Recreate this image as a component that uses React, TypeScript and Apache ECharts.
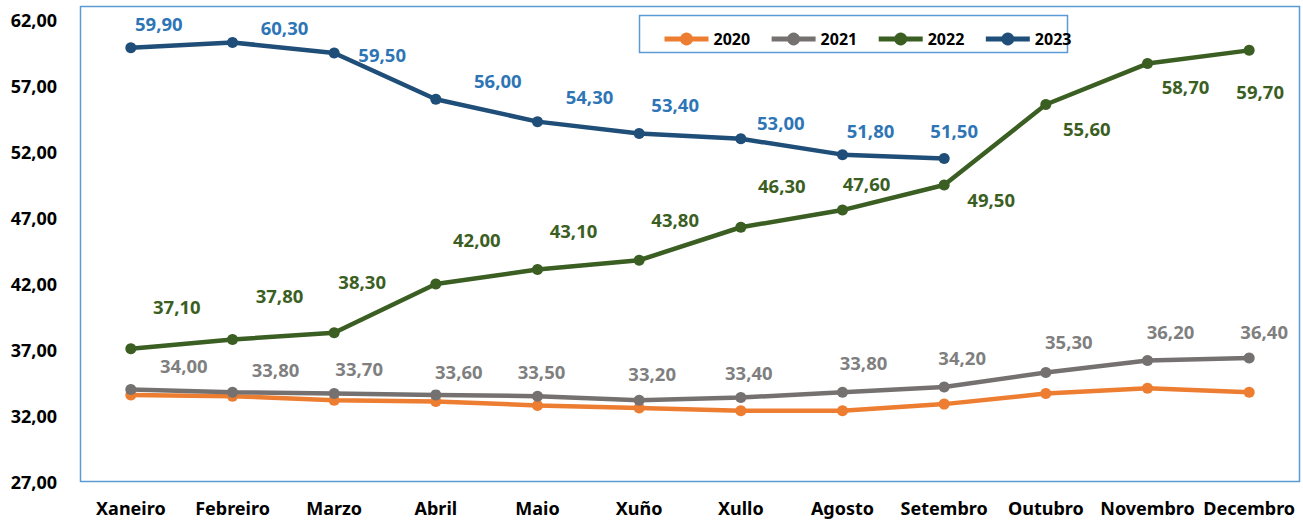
import React, { useEffect, useRef } from "react";
import * as echarts from "echarts";

const categories = ["Xaneiro", "Febreiro", "Marzo", "Abril", "Maio", "Xuño", "Xullo", "Agosto", "Setembro", "Outubro", "Novembro", "Decembro"];
const v2020 = [33.6, 33.5, 33.2, 33.1, 32.8, 32.6, 32.4, 32.4, 32.9, 33.7, 34.1, 33.8];
const v2021 = [34.0, 33.8, 33.7, 33.6, 33.5, 33.2, 33.4, 33.8, 34.2, 35.3, 36.2, 36.4];
const v2022 = [37.1, 37.8, 38.3, 42.0, 43.1, 43.8, 46.3, 47.6, 49.5, 55.6, 58.7, 59.7];
const v2023 = [59.9, 60.3, 59.5, 56.0, 54.3, 53.4, 53.0, 51.8, 51.5];

const off2021 = [[53, -24], [43, -23], [25, -25], [23, -23], [4, -25], [13, -27], [8, -25], [21, -30], [18, -29], [23, -31], [23, -29], [15, -26]];
const off2022 = [[46, -42], [47, -44], [28, -51], [41, -45], [36, -39], [36, -41], [41, -42], [24, -27], [47, 14], [41, 24], [38, 23], [11, 41]];
const off2023 = [[28, -24], [52, -15], [48, 1], [62, -19], [52, -25], [36, -29], [40, -16], [28, -24], [10, -28]];

const FONT = "Noto Sans";
const fmt = (v: number) => v.toFixed(2).replace(".", ",");

function mkSeries(name: string, values: number[], color: string, labelColor: string | null, offsets: number[][] | null) {
  return {
    name,
    type: "line",
    data: values.map((v, i) =>
      labelColor && offsets
        ? {
            value: v,
            label: {
              show: true,
              position: "inside",
              offset: offsets[i],
              color: labelColor,
              fontFamily: FONT,
              fontWeight: "bold",
              fontSize: 18.5,
              formatter: (p: any) => fmt(p.value),
            },
          }
        : v
    ),
    symbol: "circle",
    symbolSize: 11,
    lineStyle: { color, width: 4.5 },
    itemStyle: { color },
    emphasis: { disabled: true },
  };
}

export default function App() {
  const ref = useRef<HTMLDivElement>(null);
  useEffect(() => {
    if (!ref.current) return;
    const chart = echarts.init(ref.current, null, { renderer: "svg" });
    chart.setOption({
      animation: false,
      backgroundColor: "#ffffff",
      grid: { left: 80, right: 3, top: 20, bottom: 41, containLabel: false },
      legend: {
        left: 657,
        top: 26,
        itemWidth: 44,
        itemHeight: 16,
        itemGap: 19,
        lineStyle: { width: 5 },
        textStyle: { fontFamily: FONT, fontWeight: "bold", fontSize: 16, color: "#000" },
        data: ["2020", "2021", "2022", "2023"],
      },
      xAxis: {
        type: "category",
        data: categories,
        boundaryGap: true,
        axisLine: { show: false },
        axisTick: { show: false },
        axisLabel: { fontFamily: FONT, fontWeight: "bold", fontSize: 18, color: "#000", margin: 17, interval: 0 },
      },
      yAxis: {
        type: "value",
        min: 27,
        max: 62,
        interval: 5,
        axisLine: { show: false },
        axisTick: { show: false },
        splitLine: { show: false },
        axisLabel: { fontFamily: FONT, fontWeight: "bold", fontSize: 18, color: "#000", margin: 23, formatter: (v: number) => fmt(v) },
      },
      graphic: [
        { type: "rect", shape: { x: 80.5, y: 6.5, width: 1219, height: 475 }, style: { fill: "none", stroke: "#5B9BD5", lineWidth: 1.5 }, silent: true },
        { type: "rect", shape: { x: 639.5, y: 15.5, width: 428, height: 37 }, style: { fill: "none", stroke: "#5B9BD5", lineWidth: 1.5 }, silent: true },
      ],
      series: [
        mkSeries("2020", v2020, "#ED7D31", null, null),
        mkSeries("2021", v2021, "#767171", "#7F7F7F", off2021),
        mkSeries("2022", v2022, "#3B5E22", "#3B5E22", off2022),
        mkSeries("2023", v2023, "#1F4E79", "#2E75B6", off2023),
      ],
    });
    return () => chart.dispose();
  }, []);
  return <div ref={ref} style={{ width: 1303, height: 523, position: "absolute", left: 0, top: 0 }} />;
}
